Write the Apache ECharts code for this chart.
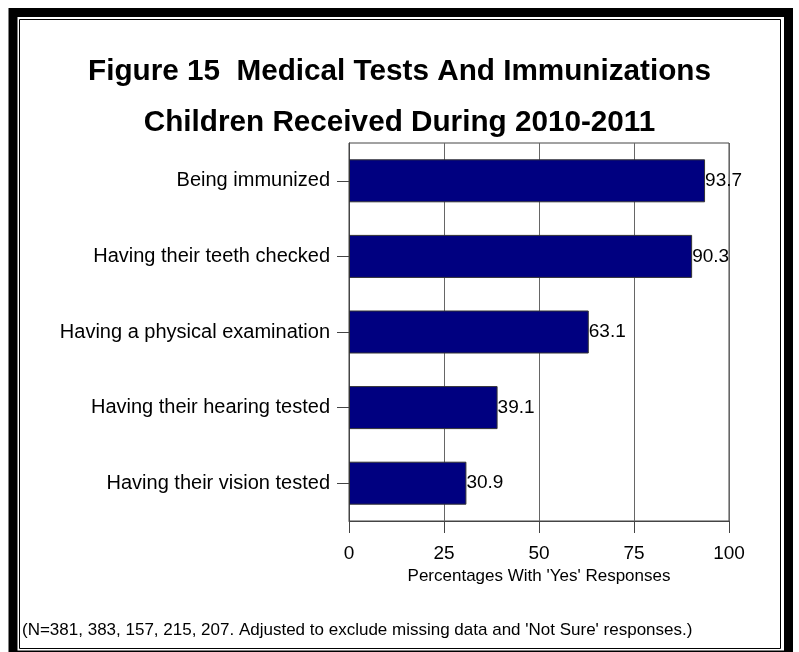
<!DOCTYPE html>
<html>
<head>
<meta charset="utf-8">
<script src="https://cdn.jsdelivr.net/npm/echarts@6/dist/echarts.min.js"></script>
<style>
html,body{margin:0;padding:0;background:#fff;}
#chart{width:799px;height:652px;}
</style>
</head>
<body>
<div id="chart"></div>
<script>
var categories = [
  'Being immunized',
  'Having their teeth checked',
  'Having a physical examination',
  'Having their hearing tested',
  'Having their vision tested'
];
var values = [93.7, 90.3, 63.1, 39.1, 30.9];
var titleLines = ['Figure 15  Medical Tests And Immunizations', 'Children Received During 2010-2011'];
var xAxisName = "Percentages With 'Yes' Responses";
var footnote = "(N=381, 383, 157, 215, 207. Adjusted to exclude missing data and 'Not Sure' responses.)";

var chart = echarts.init(document.getElementById('chart'), null, {renderer: 'canvas'});
var font = 'Liberation Sans, Arial, sans-serif';
chart.setOption({
  backgroundColor: '#fff',
  animation: false,
  title: {
    text: titleLines.join('\n'),
    left: 'center',
    top: 41,
    textStyle: {fontFamily: font, fontWeight: 'bold', fontSize: 29.7, lineHeight: 51, color: '#000'}
  },
  grid: {
    left: 349, right: 70, top: 143, bottom: 131,
    show: true, borderColor: '#444', borderWidth: 1, backgroundColor: 'transparent'
  },
  xAxis: {
    type: 'value', min: 0, max: 100, interval: 25,
    name: xAxisName, nameLocation: 'middle', nameGap: 47,
    nameTextStyle: {fontFamily: font, fontSize: 17, color: '#000'},
    axisLine: {show: true, lineStyle: {color: '#444', width: 1}},
    axisTick: {show: true, length: 12, lineStyle: {color: '#444'}},
    axisLabel: {fontFamily: font, fontSize: 19, color: '#000', margin: 23},
    splitLine: {show: true, lineStyle: {color: '#666', width: 1}}
  },
  yAxis: {
    type: 'category', data: categories, inverse: true,
    axisLine: {show: true, lineStyle: {color: '#444', width: 1}},
    axisTick: {show: true, length: 12, alignWithLabel: true, lineStyle: {color: '#444'}},
    axisLabel: {fontFamily: font, fontSize: 20, color: '#000', margin: 19}
  },
  series: [{
    type: 'bar', data: values, barWidth: 43,
    itemStyle: {color: '#000080', borderColor: '#333', borderWidth: 1},
    label: {show: true, position: 'right', distance: 0, fontFamily: font, fontSize: 19, color: '#000',
      formatter: function(p){ return p.value.toFixed(1); }}
  }],
  graphic: [
    {type: 'rect', silent: true, shape: {x: 13, y: 12.5, width: 775.5, height: 642.5},
     style: {fill: 'none', stroke: '#000', lineWidth: 9}},
    {type: 'rect', silent: true, shape: {x: 19.5, y: 19.5, width: 761, height: 629},
     style: {fill: 'none', stroke: '#000', lineWidth: 1}},
    {type: 'text', left: 22, top: 622,
     style: {text: footnote, fontFamily: font, fontSize: 17, fill: '#000'}}
  ]
});
</script>
</body>
</html>
